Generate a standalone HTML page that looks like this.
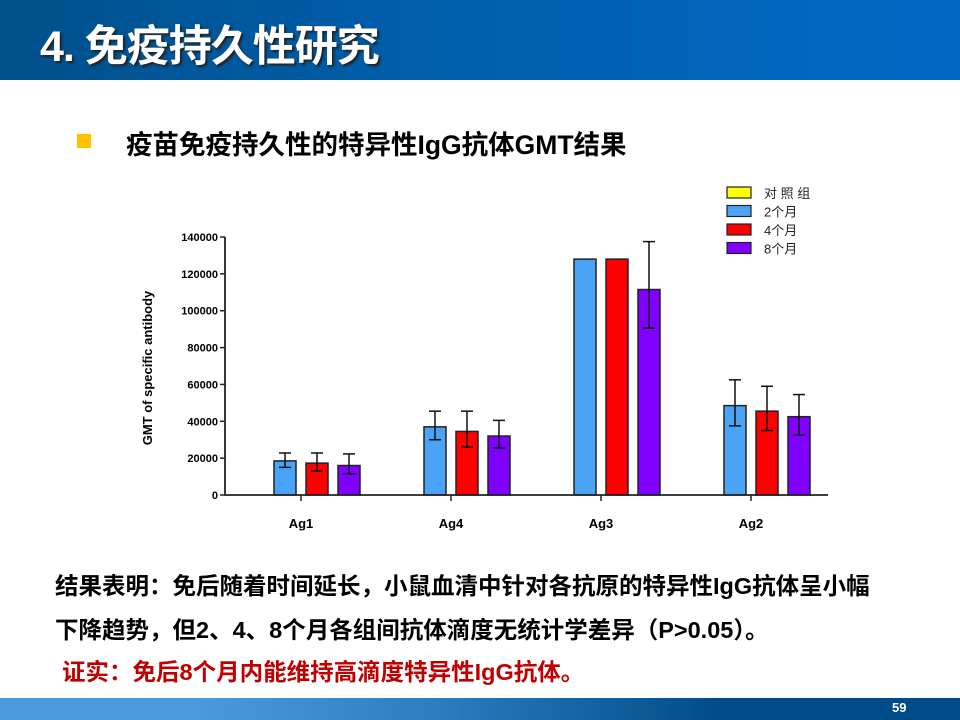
<!DOCTYPE html>
<html><head><meta charset="utf-8">
<style>
body{margin:0;width:960px;height:720px;overflow:hidden;background:#fff;position:relative;font-family:"Liberation Sans","Noto Sans CJK SC",sans-serif;}
.hdr{position:absolute;left:0;top:0;width:960px;height:80px;background:linear-gradient(90deg,#00508a,#0060b0 50%,#0068c4);}
.ttl{position:absolute;left:40px;top:12px;font-size:43px;font-weight:bold;color:#fff;text-shadow:2px 2px 2px #222;letter-spacing:-1px;}
.sub{position:absolute;left:126px;top:123px;font-size:26.5px;font-weight:bold;color:#000;}
.bul{position:absolute;left:77px;top:134px;width:14px;height:14px;background:#ffc000;}
.p{position:absolute;left:55px;font-size:23.5px;font-weight:bold;color:#000;white-space:nowrap;}
.ftr{position:absolute;left:0;top:698px;width:960px;height:22px;background:linear-gradient(90deg,#4c9ade,#4c9ade 20%,#2c7ec0 45%,#004c88 75%,#004c88);}
.pg{position:absolute;left:892px;top:700px;font-size:13px;font-weight:bold;color:#fff;}
</style></head><body>
<div class="hdr"></div>
<div class="ttl">4. 免疫持久性研究</div>
<div class="bul"></div>
<div class="sub">疫苗免疫持久性的特异性IgG抗体GMT结果</div>
<svg id="chart" width="960" height="720" style="position:absolute;left:0;top:0"></svg>
<div class="p" style="top:567px">结果表明：免后随着时间延长，小鼠血清中针对各抗原的特异性IgG抗体呈小幅</div>
<div class="p" style="top:611px">下降趋势，但2、4、8个月各组间抗体滴度无统计学差异（P&gt;0.05）。</div>
<div class="p" style="top:653px;left:62px;color:#c00000">证实：免后8个月内能维持高滴度特异性IgG抗体。</div>
<div class="ftr"></div>
<div class="pg">59</div>
<script>
const categories=["Ag1","Ag4","Ag3","Ag2"];
const seriesNames=["对 照 组","2个月","4个月","8个月"];
const colors=["#ffff00","#4aa3f5","#ff0000","#7f00ff"];
const control=[0,0,0,0];
const m2=[18500,37000,128000,48500];
const m4=[17300,34500,128000,45500];
const m8=[16000,32000,111500,42500];
const m2lo=[15000,30000,128000,37500], m2hi=[22800,45500,128000,62500];
const m4lo=[13000,26000,128000,35000], m4hi=[22800,45500,128000,59000];
const m8lo=[11500,25500,90500,32500], m8hi=[22300,40500,137500,54500];
const yTicks=[0,20000,40000,60000,80000,100000,120000,140000];
const vals=[control,m2,m4,m8], los=[null,m2lo,m4lo,m8lo], his=[null,m2hi,m4hi,m8hi];
const svg=document.getElementById('chart');const NS="http://www.w3.org/2000/svg";
function el(t,a,p){const e=document.createElementNS(NS,t);for(const k in a)e.setAttribute(k,a[k]);(p||svg).appendChild(e);return e;}
const x0=225,x1=828,y0=495,yTop=237,yMax=140000;
const Y=v=>y0-(v/yMax)*(y0-yTop);
const gc=i=>301+i*150;
const sx=(i,s)=>gc(i)-48+s*32;
const bw=22;
for(let i=0;i<categories.length;i++){
  for(let s=1;s<4;s++){
    const v=vals[s][i];
    const r=el('rect',{x:sx(i,s)-bw/2,y:Y(v),width:bw,height:y0-Y(v),fill:colors[s],stroke:'#222','stroke-width':1.5});
    
    
    const lo=los[s][i],hi=his[s][i];
    if(hi>lo){
      const g=el('g',{stroke:'#111','stroke-width':1.5});
      
      
      el('line',{x1:sx(i,s),x2:sx(i,s),y1:Y(hi),y2:Y(lo)},g);
      el('line',{x1:sx(i,s)-6,x2:sx(i,s)+6,y1:Y(hi),y2:Y(hi)},g);
      el('line',{x1:sx(i,s)-6,x2:sx(i,s)+6,y1:Y(lo),y2:Y(lo)},g);
    }
  }
  const t=el('line',{x1:gc(i),x2:gc(i),y1:y0,y2:y0+6,stroke:'#222','stroke-width':1.5});
  
  
  const lb=el('text',{x:gc(i),y:528,'text-anchor':'middle','font-size':13,'font-weight':'bold','font-family':'Liberation Sans, sans-serif'});
  lb.textContent=categories[i];
  
  
}
const ax=el('path',{d:`M${x0} ${yTop}V${y0}H${x1}`,fill:'none',stroke:'#222','stroke-width':1.8});


yTicks.forEach(v=>{
  el('line',{x1:x0-5,x2:x0,y1:Y(v),y2:Y(v),stroke:'#222','stroke-width':1.5});
  const t=el('text',{x:x0-7,y:Y(v)+4,'text-anchor':'end','font-size':11,'font-weight':'bold','font-family':'Liberation Sans, sans-serif'});
  t.textContent=v;
  
  
});
const yt=el('text',{x:0,y:0,transform:'translate(152,368) rotate(-90)','text-anchor':'middle','font-size':13,'font-weight':'bold','font-family':'Liberation Sans, sans-serif'});
yt.textContent='GMT of specific antibody';


seriesNames.forEach((n,s)=>{
  const y=187+s*18.5;
  const g=el('g',{});
  
  
  el('rect',{x:727,y:y,width:24,height:11,fill:colors[s],stroke:'#222','stroke-width':1.2},g);
  const t=el('text',{x:764,y:y+11,'font-size':13,fill:'#222','font-family':'Liberation Sans, Noto Sans CJK SC, sans-serif'},g);
  t.textContent=n;
});
</script>
</body></html>
